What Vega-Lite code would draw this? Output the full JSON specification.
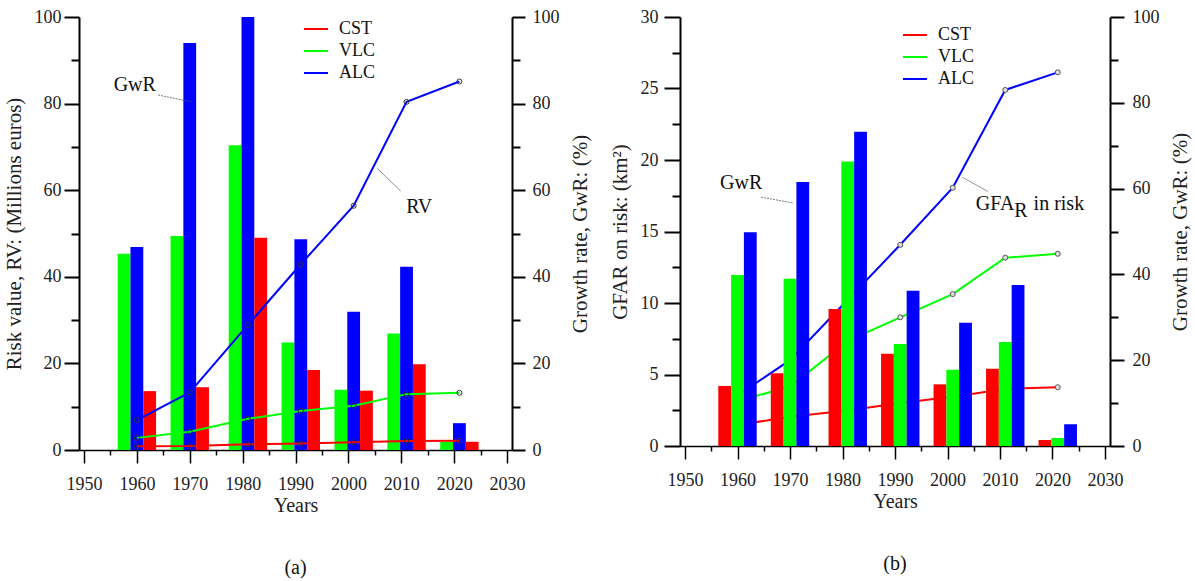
{
  "$schema": "https://vega.github.io/schema/vega-lite/v6.json",
  "padding": {"left": 3, "top": 8, "right": 5, "bottom": 5},
  "background": "white",
  "spacing": 19,
  "datasets": {
    "a": [
      {"year": 1960, "cat": "CST", "rv": 13.6, "gwr": 0.85},
      {"year": 1960, "cat": "VLC", "rv": 45.3, "gwr": 2.8},
      {"year": 1960, "cat": "ALC", "rv": 46.9, "gwr": 6.9},
      {"year": 1970, "cat": "CST", "rv": 14.5, "gwr": 0.9},
      {"year": 1970, "cat": "VLC", "rv": 49.4, "gwr": 4.2},
      {"year": 1970, "cat": "ALC", "rv": 94.0, "gwr": 13.3},
      {"year": 1981, "cat": "CST", "rv": 49.0, "gwr": 1.3},
      {"year": 1981, "cat": "VLC", "rv": 70.4, "gwr": 7.2},
      {"year": 1981, "cat": "ALC", "rv": 100.0, "gwr": 28.9},
      {"year": 1991, "cat": "CST", "rv": 18.5, "gwr": 1.5},
      {"year": 1991, "cat": "VLC", "rv": 24.8, "gwr": 9.0},
      {"year": 1991, "cat": "ALC", "rv": 48.7, "gwr": 42.9},
      {"year": 2001, "cat": "CST", "rv": 13.7, "gwr": 1.8},
      {"year": 2001, "cat": "VLC", "rv": 13.9, "gwr": 10.2},
      {"year": 2001, "cat": "ALC", "rv": 31.9, "gwr": 56.4},
      {"year": 2011, "cat": "CST", "rv": 19.8, "gwr": 2.1},
      {"year": 2011, "cat": "VLC", "rv": 26.9, "gwr": 12.9},
      {"year": 2011, "cat": "ALC", "rv": 42.3, "gwr": 80.4},
      {"year": 2021, "cat": "CST", "rv": 1.9, "gwr": 2.15},
      {"year": 2021, "cat": "VLC", "rv": 1.85, "gwr": 13.2},
      {"year": 2021, "cat": "ALC", "rv": 6.2, "gwr": 85.1}
    ],
    "b": [
      {"year": 1960, "cat": "CST", "rv": 4.2, "gwr": 4.9},
      {"year": 1960, "cat": "VLC", "rv": 11.96, "gwr": 10.5},
      {"year": 1960, "cat": "ALC", "rv": 14.94, "gwr": 11.8},
      {"year": 1970, "cat": "CST", "rv": 5.08, "gwr": 6.8},
      {"year": 1970, "cat": "VLC", "rv": 11.7, "gwr": 13.8},
      {"year": 1970, "cat": "ALC", "rv": 18.46, "gwr": 20.0},
      {"year": 1981, "cat": "CST", "rv": 9.58, "gwr": 8.3},
      {"year": 1981, "cat": "VLC", "rv": 19.9, "gwr": 24.5},
      {"year": 1981, "cat": "ALC", "rv": 21.98, "gwr": 34.1},
      {"year": 1991, "cat": "CST", "rv": 6.45, "gwr": 10.0},
      {"year": 1991, "cat": "VLC", "rv": 7.13, "gwr": 30.0},
      {"year": 1991, "cat": "ALC", "rv": 10.86, "gwr": 46.9},
      {"year": 2001, "cat": "CST", "rv": 4.31, "gwr": 11.5},
      {"year": 2001, "cat": "VLC", "rv": 5.34, "gwr": 35.4},
      {"year": 2001, "cat": "ALC", "rv": 8.62, "gwr": 60.2},
      {"year": 2011, "cat": "CST", "rv": 5.41, "gwr": 13.3},
      {"year": 2011, "cat": "VLC", "rv": 7.27, "gwr": 43.9},
      {"year": 2011, "cat": "ALC", "rv": 11.26, "gwr": 83.0},
      {"year": 2021, "cat": "CST", "rv": 0.42, "gwr": 13.7},
      {"year": 2021, "cat": "VLC", "rv": 0.56, "gwr": 44.8},
      {"year": 2021, "cat": "ALC", "rv": 1.52, "gwr": 87.1}
    ]
  },
  "resolve": {"scale": {"color": "independent"}},
  "hconcat": [
    {
      "width": 433,
      "height": 433,
      "title": {"text": "(a)", "orient": "bottom", "offset": 43, "fontSize": 20, "font": "Liberation Serif", "fontWeight": "normal", "color": "#111"},
      "resolve": {"scale": {"y": "independent"}},
      "layer": [
        {
          "resolve": {"axis": {"x": "independent", "y": "independent"}},
          "layer": [
            {
              "data": {"name": "a"},
              "transform": [{"filter": "datum.cat === 'VLC'"}],
              "mark": {"type": "bar", "color": "#00ff00", "width": 12.8, "xOffset": -12.8},
              "encoding": {
                "x": {"field": "year", "type": "quantitative", "scale": {"domain": [1950, 2030], "nice": false, "zero": false},
                  "axis": {"orient": "bottom", "title": "Years", "titleFontSize": 20, "values": [1950,1960,1970,1980,1990,2000,2010,2020,2030], "format": "d", "tickSize": 13, "labelPadding": 12, "titlePadding": 2, "domainWidth": 1.5, "tickWidth": 1.5}},
                "y": {"field": "rv", "type": "quantitative", "scale": {"domain": [0, 100], "nice": false},
                  "axis": {"orient": "left", "title": "Risk value, RV: (Millions euros)", "values": [0,20,40,60,80,100], "tickSize": 15, "labelPadding": 3, "titlePadding": 10}}
              }
            },
            {
              "data": {"name": "a"},
              "transform": [{"filter": "datum.cat === 'ALC'"}],
              "mark": {"type": "bar", "color": "#0000ff", "width": 12.8, "xOffset": 0},
              "encoding": {
                "x": {"field": "year", "type": "quantitative", "scale": {"domain": [1950, 2030], "nice": false, "zero": false},
                  "axis": {"orient": "bottom", "title": null, "values": [1955,1965,1975,1985,1995,2005,2015,2025], "labels": false, "domain": false, "tickSize": 5, "tickWidth": 1.5}},
                "y": {"field": "rv", "type": "quantitative", "scale": {"domain": [0, 100], "nice": false},
                  "axis": {"orient": "left", "title": null, "values": [10,30,50,70,90], "labels": false, "domain": false, "tickSize": 8}}
              }
            },
            {
              "data": {"name": "a"},
              "transform": [{"filter": "datum.cat === 'CST'"}],
              "mark": {"type": "bar", "color": "#ff0000", "width": 12.8, "xOffset": 12.8},
              "encoding": {
                "x": {"field": "year", "type": "quantitative", "scale": {"domain": [1950, 2030], "nice": false, "zero": false}, "axis": null},
                "y": {"field": "rv", "type": "quantitative", "scale": {"domain": [0, 100], "nice": false}, "axis": null}
              }
            },
            {
              "data": {"values": [{}]},
              "mark": {"type": "text", "text": "GwR", "font": "Liberation Serif", "fontSize": 20, "color": "#111", "align": "center", "baseline": "middle"},
              "encoding": {
                "x": {"datum": 1959.6, "type": "quantitative", "axis": null},
                "y": {"datum": 84.3, "type": "quantitative", "axis": null}
              }
            },
            {
              "data": {"values": [{}]},
              "mark": {"type": "rule", "color": "#555", "strokeWidth": 0.8, "strokeDash": [2, 1]},
              "encoding": {
                "x": {"datum": 1964.0, "type": "quantitative", "axis": null},
                "x2": {"datum": 1970.3},
                "y": {"datum": 82.0, "type": "quantitative", "axis": null},
                "y2": {"datum": 80.4}
              }
            },
            {
              "data": {"values": [{}]},
              "mark": {"type": "text", "text": "RV", "font": "Liberation Serif", "fontSize": 20, "color": "#111", "align": "center", "baseline": "middle"},
              "encoding": {
                "x": {"datum": 2013.4, "type": "quantitative", "axis": null},
                "y": {"datum": 56.1, "type": "quantitative", "axis": null}
              }
            },
            {
              "data": {"values": [{}]},
              "mark": {"type": "rule", "color": "#777", "strokeWidth": 0.8},
              "encoding": {
                "x": {"datum": 2005.4, "type": "quantitative", "axis": null},
                "x2": {"datum": 2009.9},
                "y": {"datum": 65.1, "type": "quantitative", "axis": null},
                "y2": {"datum": 59.8}
              }
            }
          ]
        },
        {
          "data": {"name": "a"},
          "resolve": {"axis": {"y": "independent"}},
          "layer": [
            {
              "mark": {"type": "line", "strokeWidth": 2},
              "encoding": {
                "x": {"field": "year", "type": "quantitative", "scale": {"domain": [1950, 2030], "nice": false, "zero": false}, "axis": null},
                "y": {"field": "gwr", "type": "quantitative", "scale": {"domain": [0, 100], "nice": false},
                  "axis": {"orient": "right", "title": "Growth rate, GwR: (%)", "values": [0,20,40,60,80,100], "tickSize": 13, "labelPadding": 7, "titleAngle": 270, "titleBaseline": "top", "titlePadding": 10}},
                "color": {"field": "cat", "type": "nominal", "scale": {"domain": ["CST", "VLC", "ALC"], "range": ["#ff0000", "#00ff00", "#0000ff"]},
                  "legend": {"title": null, "orient": "none", "legendX": 224, "legendY": -1, "symbolType": "stroke", "symbolSize": 576, "symbolStrokeWidth": 2, "labelFont": "Liberation Serif", "labelFontSize": 18, "labelColor": "#111", "labelOffset": 10, "rowPadding": 0, "padding": 0}}
              }
            },
            {
              "mark": {"type": "point", "shape": "circle", "filled": false, "stroke": "#333", "size": 25, "strokeWidth": 1, "opacity": 1},
              "encoding": {
                "x": {"field": "year", "type": "quantitative", "axis": null},
                "y": {"field": "gwr", "type": "quantitative", "scale": {"domain": [0, 100], "nice": false},
                  "axis": {"orient": "right", "title": null, "values": [10,30,50,70,90], "labels": false, "domain": false, "tickSize": 8}}
              }
            }
          ]
        }
      ]
    },
    {
      "width": 430,
      "height": 429,
      "title": {"text": "(b)", "orient": "bottom", "offset": 43, "fontSize": 20, "font": "Liberation Serif", "fontWeight": "normal", "color": "#111"},
      "resolve": {"scale": {"y": "independent"}},
      "layer": [
        {
          "data": {"name": "b"},
          "resolve": {"axis": {"y": "independent"}},
          "layer": [
            {
              "mark": {"type": "line", "strokeWidth": 2},
              "encoding": {
                "x": {"field": "year", "type": "quantitative", "scale": {"domain": [1950, 2030], "nice": false, "zero": false}, "axis": null},
                "y": {"field": "gwr", "type": "quantitative", "scale": {"domain": [0, 100], "nice": false},
                  "axis": {"orient": "right", "title": "Growth rate, GwR: (%)", "values": [0,20,40,60,80,100], "tickSize": 14, "labelPadding": 8, "titleAngle": 270, "titleBaseline": "top", "titlePadding": 10}},
                "color": {"field": "cat", "type": "nominal", "scale": {"domain": ["CST", "VLC", "ALC"], "range": ["#ff0000", "#00ff00", "#0000ff"]},
                  "legend": {"title": null, "orient": "none", "legendX": 222, "legendY": 5, "symbolType": "stroke", "symbolSize": 576, "symbolStrokeWidth": 2, "labelFont": "Liberation Serif", "labelFontSize": 18, "labelColor": "#111", "labelOffset": 10, "rowPadding": 0, "padding": 0}}
              }
            },
            {
              "mark": {"type": "point", "shape": "circle", "filled": true, "fill": "#dddddd", "stroke": "#555", "size": 25, "strokeWidth": 1, "opacity": 1},
              "encoding": {
                "x": {"field": "year", "type": "quantitative", "axis": null},
                "y": {"field": "gwr", "type": "quantitative", "scale": {"domain": [0, 100], "nice": false},
                  "axis": {"orient": "right", "title": null, "values": [10,30,50,70,90], "labels": false, "domain": false, "tickSize": 8}}
              }
            }
          ]
        },
        {
          "resolve": {"axis": {"x": "independent", "y": "independent"}},
          "layer": [
            {
              "data": {"name": "b"},
              "transform": [{"filter": "datum.cat === 'CST'"}],
              "mark": {"type": "bar", "color": "#ff0000", "width": 12.8, "xOffset": -12.8},
              "encoding": {
                "x": {"field": "year", "type": "quantitative", "scale": {"domain": [1950, 2030], "nice": false, "zero": false},
                  "axis": {"orient": "bottom", "title": "Years", "titleFontSize": 20, "values": [1950,1960,1970,1980,1990,2000,2010,2020,2030], "format": "d", "tickSize": 13, "labelPadding": 12, "titlePadding": 2, "domainWidth": 1.5, "tickWidth": 1.5}},
                "y": {"field": "rv", "type": "quantitative", "scale": {"domain": [0, 30], "nice": false},
                  "axis": {"orient": "left", "title": "GFAR on risk: (km²)", "values": [0,5,10,15,20,25,30], "tickSize": 16, "labelPadding": 6, "titlePadding": 10}}
              }
            },
            {
              "data": {"name": "b"},
              "transform": [{"filter": "datum.cat === 'VLC'"}],
              "mark": {"type": "bar", "color": "#00ff00", "width": 12.8, "xOffset": 0},
              "encoding": {
                "x": {"field": "year", "type": "quantitative", "scale": {"domain": [1950, 2030], "nice": false, "zero": false},
                  "axis": {"orient": "bottom", "title": null, "values": [1955,1965,1975,1985,1995,2005,2015,2025], "labels": false, "domain": false, "tickSize": 5, "tickWidth": 1.5}},
                "y": {"field": "rv", "type": "quantitative", "scale": {"domain": [0, 30], "nice": false},
                  "axis": {"orient": "left", "title": null, "values": [2.5,7.5,12.5,17.5,22.5,27.5], "labels": false, "domain": false, "tickSize": 8}}
              }
            },
            {
              "data": {"name": "b"},
              "transform": [{"filter": "datum.cat === 'ALC'"}],
              "mark": {"type": "bar", "color": "#0000ff", "width": 12.8, "xOffset": 12.8},
              "encoding": {
                "x": {"field": "year", "type": "quantitative", "scale": {"domain": [1950, 2030], "nice": false, "zero": false}, "axis": null},
                "y": {"field": "rv", "type": "quantitative", "scale": {"domain": [0, 30], "nice": false}, "axis": null}
              }
            },
            {
              "data": {"values": [{}]},
              "mark": {"type": "text", "text": "GwR", "font": "Liberation Serif", "fontSize": 20, "color": "#111", "align": "center", "baseline": "middle"},
              "encoding": {
                "x": {"datum": 1960.7, "type": "quantitative", "axis": null},
                "y": {"datum": 18.4, "type": "quantitative", "axis": null}
              }
            },
            {
              "data": {"values": [{}]},
              "mark": {"type": "rule", "color": "#555", "strokeWidth": 0.8, "strokeDash": [2, 1]},
              "encoding": {
                "x": {"datum": 1964.5, "type": "quantitative", "axis": null},
                "x2": {"datum": 1970.5},
                "y": {"datum": 17.4, "type": "quantitative", "axis": null},
                "y2": {"datum": 17.0}
              }
            },
            {
              "data": {"values": [{}]},
              "mark": {"type": "text", "text": "GFA", "font": "Liberation Serif", "fontSize": 20, "color": "#111", "align": "left", "baseline": "middle"},
              "encoding": {
                "x": {"datum": 2005.4, "type": "quantitative", "axis": null},
                "y": {"datum": 16.9, "type": "quantitative", "axis": null}
              }
            },
            {
              "data": {"values": [{}]},
              "mark": {"type": "text", "text": "R", "font": "Liberation Serif", "fontSize": 20, "color": "#111", "align": "left", "baseline": "middle"},
              "encoding": {
                "x": {"datum": 2012.7, "type": "quantitative", "axis": null},
                "y": {"datum": 16.4, "type": "quantitative", "axis": null}
              }
            },
            {
              "data": {"values": [{}]},
              "mark": {"type": "text", "text": "in risk", "font": "Liberation Serif", "fontSize": 20, "color": "#111", "align": "left", "baseline": "middle"},
              "encoding": {
                "x": {"datum": 2016.4, "type": "quantitative", "axis": null},
                "y": {"datum": 16.9, "type": "quantitative", "axis": null}
              }
            },
            {
              "data": {"values": [{}]},
              "mark": {"type": "rule", "color": "#777", "strokeWidth": 0.8},
              "encoding": {
                "x": {"datum": 2002.8, "type": "quantitative", "axis": null},
                "x2": {"datum": 2007.7},
                "y": {"datum": 18.8, "type": "quantitative", "axis": null},
                "y2": {"datum": 17.8}
              }
            }
          ]
        }
      ]
    }
  ],
  "config": {
    "view": {"stroke": null},
    "axis": {"labelFont": "Liberation Serif", "titleFont": "Liberation Serif", "labelFontSize": 18, "titleFontSize": 21, "titleFontWeight": "normal", "labelColor": "#222", "titleColor": "#222", "domainColor": "#000", "tickColor": "#000", "grid": false, "labelFlush": false, "labelOverlap": false, "domainWidth": 2, "tickWidth": 2}
  }
}
